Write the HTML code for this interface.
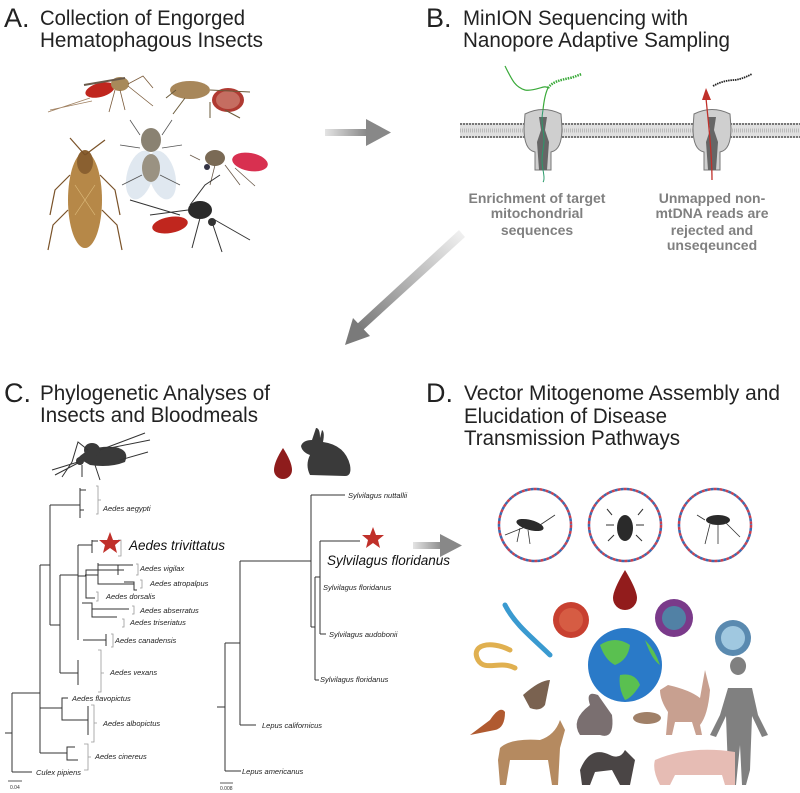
<!DOCTYPE html>
<html><head><meta charset="utf-8"><style>
html,body{margin:0;padding:0;background:#fff;}
svg{display:block;}
.t{font-family:"Liberation Sans",sans-serif;font-size:21px;fill:#222;}
.L{font-family:"Liberation Sans",sans-serif;font-size:27px;fill:#222;}
.b{font-family:"Liberation Sans",sans-serif;font-size:14px;font-weight:bold;fill:#808080;}
.i{font-family:"Liberation Sans",sans-serif;font-size:7.5px;font-style:italic;fill:#222;}
.I{font-family:"Liberation Sans",sans-serif;font-size:13.5px;font-style:italic;fill:#111;}
.s{font-family:"Liberation Sans",sans-serif;font-size:5px;fill:#333;}
.tr{stroke:#333;stroke-width:1;fill:none;}
.br{stroke:#999;stroke-width:0.8;fill:none;}
</style></head><body>
<svg width="800" height="793" viewBox="0 0 800 793" xmlns="http://www.w3.org/2000/svg">
<defs>
<linearGradient id="g1" x1="0" y1="0" x2="1" y2="0"><stop offset="0" stop-color="#e4e4e4"/><stop offset="1" stop-color="#888"/></linearGradient>
<linearGradient id="g2" x1="1" y1="0" x2="0" y2="1"><stop offset="0" stop-color="#f4f4f4"/><stop offset="1" stop-color="#777"/></linearGradient>
</defs>
<text class="L" x="4" y="27">A.</text>
<text class="t" x="40" y="25" textLength="205" lengthAdjust="spacingAndGlyphs">Collection of Engorged</text>
<text class="t" x="40" y="47" textLength="223" lengthAdjust="spacingAndGlyphs">Hematophagous Insects</text>
<text class="L" x="426" y="27">B.</text>
<text class="t" x="463" y="25" textLength="225" lengthAdjust="spacingAndGlyphs">MinION Sequencing with</text>
<text class="t" x="463" y="47" textLength="267" lengthAdjust="spacingAndGlyphs">Nanopore Adaptive Sampling</text>
<text class="L" x="4" y="402">C.</text>
<text class="t" x="40" y="400" textLength="230" lengthAdjust="spacingAndGlyphs">Phylogenetic Analyses of</text>
<text class="t" x="40" y="422" textLength="218" lengthAdjust="spacingAndGlyphs">Insects and Bloodmeals</text>
<text class="L" x="426" y="402">D.</text>
<text class="t" x="464" y="400" textLength="316" lengthAdjust="spacingAndGlyphs">Vector Mitogenome Assembly and</text>
<text class="t" x="464" y="423" textLength="203" lengthAdjust="spacingAndGlyphs">Elucidation of Disease</text>
<text class="t" x="464" y="445" textLength="216" lengthAdjust="spacingAndGlyphs">Transmission Pathways</text>

<rect x="325" y="129" width="42" height="7" fill="url(#g1)"/>
<polygon points="366,119 391,132.5 366,146" fill="#888"/>
<polygon points="459,230 465,237 362,331 356,325" fill="url(#g2)"/>
<polygon points="345,345 353,318 370,336" fill="#7a7a7a"/>
<rect x="413" y="542" width="30" height="7" fill="url(#g1)"/>
<polygon points="440,534 462,545.5 440,557" fill="#888"/>

<g>
<path d="M48,112 L90,98 M50,110 L92,101" stroke="#a08060" stroke-width="0.8"/>
<ellipse cx="100" cy="90" rx="15" ry="7" fill="#c0261e" transform="rotate(-15 100 90)"/>
<ellipse cx="120" cy="84" rx="9" ry="7" fill="#a88a5a"/>
<path d="M115,90 l-6,22 M120,90 l5,20 M128,86 l25,20 M128,84 l15,-8 l10,12" stroke="#7a5a3a" stroke-width="0.8" fill="none"/>
<path d="M84,85 L125,78" stroke="#6a5a4a" stroke-width="2"/>
<ellipse cx="190" cy="90" rx="20" ry="9" fill="#a8875a"/>
<ellipse cx="228" cy="100" rx="16" ry="12" fill="#b03a32"/>
<ellipse cx="228" cy="100" rx="12" ry="9" fill="#d9a090" opacity="0.5"/>
<path d="M176,90 l-10,8 M185,98 l-12,16 M210,102 l0,16 M225,110 l15,8 M210,90 L250,92" stroke="#6a5a3a" stroke-width="1" fill="none"/>
<ellipse cx="85" cy="200" rx="17" ry="48" fill="#b68848"/>
<ellipse cx="85" cy="162" rx="8" ry="12" fill="#8a6030"/>
<path d="M85,155 L70,138 M85,155 L105,140 M70,175 l-15,15 l-5,25 M100,175 l15,15 l5,25 M68,210 l-15,15 l-5,25 M102,210 l15,15 l5,25" stroke="#7a5228" stroke-width="1.2" fill="none"/>
<path d="M75,185 L95,215 M95,185 L75,215" stroke="#e0c080" stroke-width="0.6"/>
<ellipse cx="140" cy="175" rx="13" ry="25" fill="#d8e2ec" opacity="0.8" transform="rotate(15 140 175)"/>
<ellipse cx="162" cy="175" rx="13" ry="25" fill="#d8e2ec" opacity="0.8" transform="rotate(-15 162 175)"/>
<ellipse cx="151" cy="140" rx="10" ry="12" fill="#8a8272"/>
<ellipse cx="151" cy="168" rx="9" ry="14" fill="#9a9282"/>
<path d="M140,135 l-10,-15 M162,135 l10,-15 M140,148 l-20,-3 M162,148 l20,-3 M142,175 l-20,10 M160,175 l20,10" stroke="#555" stroke-width="0.8"/>
<ellipse cx="250" cy="162" rx="18" ry="9" fill="#d83050" transform="rotate(10 250 162)"/>
<ellipse cx="215" cy="158" rx="10" ry="8" fill="#7a6a55"/>
<circle cx="207" cy="167" r="3" fill="#334"/>
<path d="M215,165 l-5,20 M225,165 l15,20 M235,168 l20,18 M200,160 l-10,-5" stroke="#6a5a4a" stroke-width="0.8"/>
<ellipse cx="170" cy="225" rx="18" ry="8" fill="#c0261e" transform="rotate(-10 170 225)"/>
<ellipse cx="200" cy="210" rx="12" ry="9" fill="#2a2a2a"/>
<circle cx="212" cy="222" r="4" fill="#333"/>
<path d="M130,200 L180,215 M190,205 L205,185 L220,175 M200,218 l-8,30 M212,222 l10,30 M215,220 L250,240 M188,210 L150,215" stroke="#333" stroke-width="1" fill="none"/>
</g>

<rect x="460" y="123" width="340" height="15" fill="#e0e0e0"/>
<line x1="460" y1="124" x2="800" y2="124" stroke="#777" stroke-width="2" stroke-dasharray="2,1"/>
<line x1="460" y1="137" x2="800" y2="137" stroke="#777" stroke-width="2" stroke-dasharray="2,1"/>
<line x1="460" y1="130.5" x2="800" y2="130.5" stroke="#bbb" stroke-width="4" stroke-dasharray="1,1"/>
<g id="pore">
<path d="M525,114 Q543,105 561,114 L562,128 Q562,150 551,152 L551,170 L535,170 L535,152 Q524,150 524,128 Z" fill="#cfcfcf" stroke="#777" stroke-width="1"/>
<path d="M539,117 L547,117 L545,130 L549,142 L547,170 L539,170 L537,142 L541,130 Z" fill="#666"/>
</g>
<use href="#pore" x="169"/>
<path d="M543,110 q-2,10 0,20 q2,10 0,20 q-2,10 0,20 q2,10 0,12" stroke="#2a9a6a" stroke-width="1" fill="none"/>
<path d="M543,110 C544,100 546,92 548,88 C545,84 535,92 525,90 C515,87 512,80 505,66" stroke="#3aaa3a" stroke-width="1.2" fill="none"/>
<path d="M548,88 C552,82 560,80 570,78 C575,77 578,75 582,74" stroke="#3aaa3a" stroke-width="2.5" stroke-dasharray="1.5,1" fill="none"/>
<path d="M712,180 C712,150 708,120 706,98" stroke="#c0302a" stroke-width="1.3" fill="none"/>
<polygon points="702,100 706,88 711,100" fill="#c0302a"/>
<path d="M713,86 C720,82 728,80 735,80 C742,79 748,76 752,74" stroke="#222" stroke-width="1.8" stroke-dasharray="1.5,0.8" fill="none"/>
<text class="b" x="537" y="203" text-anchor="middle">Enrichment of target</text>
<text class="b" x="537" y="218" text-anchor="middle">mitochondrial</text>
<text class="b" x="537" y="235" text-anchor="middle">sequences</text>
<text class="b" x="712" y="203" text-anchor="middle">Unmapped non-</text>
<text class="b" x="712" y="218" text-anchor="middle">mtDNA reads are</text>
<text class="b" x="712" y="235" text-anchor="middle">rejected and</text>
<text class="b" x="712" y="250" text-anchor="middle">unseqeunced</text>

<path d="M78,458 Q90,445 115,447 Q130,450 125,462 Q110,468 90,465 Z" fill="#3a3a3a"/>
<ellipse cx="92" cy="450" rx="8" ry="7" fill="#3a3a3a"/>
<circle cx="80" cy="461" r="4" fill="#3a3a3a"/>
<path d="M78,462 L52,470 M78,463 L55,475 M82,465 l0,12 M88,450 l-10,-8 l-6,20 l-10,15 M95,465 l5,15 M100,450 L145,433 M110,448 L150,440 M120,460 L148,452" stroke="#333" stroke-width="1" fill="none"/>
<path d="M283,448 Q292,462 292,470 A9,9 0 0 1 274,470 Q274,462 283,448 Z" fill="#8e1c1c"/>
<path d="M310,475 Q305,465 310,455 Q302,452 301,446 Q303,440 312,440 L316,428 Q320,428 320,438 L322,430 Q325,432 323,442 Q345,445 350,465 Q352,476 345,476 Z" fill="#3a3a3a"/>

<g class="tr">
<path d="M5,733 H12 M12,693 V772 M12,772 H32 M12,693 H40 M40,565 V708 M40,753 V708"/>
<path d="M40,708 H62 V698 H68 M62,708 V720 H88"/>
<path d="M40,753 H67 V747 H75 M67,753 V760 H78"/>
<path d="M40,565 H50 M50,505 V625 M50,505 H80 M80,488 V518 M80,490 H86 M80,510 H84"/>
<path d="M50,625 H60 M60,575 V673 M60,673 H78 M78,660 V685"/>
<path d="M60,575 H78 M78,545 V640 M78,545 H92 M92,540 V553 M92,541 H98"/>
<path d="M78,576 H86 V570 H118 M86,576 V598 H95 M98,563 V575 M98,570 H124 M98,565 H133 M118,565 V575 M124,582 H134 V590 H137"/>
<path d="M82,603 H92 V617 H117 M92,609 H129"/>
<path d="M83,640 H106 M106,634 V646 M78,560 V640"/>
<path d="M85,575 H98 V584 H134"/>
<path d="M88,720 V706 M88,735 V706"/>
</g>
<g class="br">
<path d="M96,486 H98 V514 H96 M98,500 H101"/>
<path d="M118,540 H121 V556 H118"/>
<path d="M136,564 H138 V575 H136"/>
<path d="M140,580 H142 V588 H140"/>
<path d="M96,592 H98 V601 H96"/>
<path d="M132,606 H134 V614 H132"/>
<path d="M122,619 H124 V627 H122"/>
<path d="M111,634 H113 V647 H111"/>
<path d="M98,650 H101 V692 H98 M101,673 H104"/>
<path d="M91,705 H94 V742 H91 M94,723 H97"/>
<path d="M84,744 H88 V770 H84 M88,757 H91"/>
</g>
<polygon points="110,532 113,540 121,540 115,545 117,553 110,548 103,553 105,545 99,540 107,540" fill="#c0302a"/>
<text class="i" x="103" y="511">Aedes aegypti</text>
<text class="I" x="129" y="550">Aedes trivittatus</text>
<text class="i" x="140" y="571">Aedes vigilax</text>
<text class="i" x="150" y="586">Aedes atropalpus</text>
<text class="i" x="106" y="599">Aedes dorsalis</text>
<text class="i" x="140" y="613">Aedes abserratus</text>
<text class="i" x="130" y="625">Aedes triseriatus</text>
<text class="i" x="115" y="643">Aedes canadensis</text>
<text class="i" x="110" y="675">Aedes vexans</text>
<text class="i" x="72" y="701">Aedes flavopictus</text>
<text class="i" x="103" y="726">Aedes albopictus</text>
<text class="i" x="95" y="759">Aedes cinereus</text>
<text class="i" x="36" y="775">Culex pipiens</text>
<path d="M8,781 H22" stroke="#333" stroke-width="0.8"/>
<text class="s" x="10" y="789">0.04</text>

<g class="tr">
<path d="M217,707 H225 M225,643 V771 M225,771 H241 M225,643 H240 M240,561 V725 M240,725 H256"/>
<path d="M240,561 H311 M311,495 V627 M311,495 H345 M311,627 H315 M315,577 V680 M315,680 H319 M315,577 H320 M320,541 V634 M320,541 H360 M320,634 H326"/>
</g>
<path d="M220,783 H233" stroke="#333" stroke-width="0.8"/>
<polygon points="373,527 376,535 384,535 378,540 380,548 373,543 366,548 368,540 362,535 370,535" fill="#c0302a"/>
<text class="i" x="348" y="498">Sylvilagus nuttallii</text>
<text class="I" x="327" y="565">Sylvilagus floridanus</text>
<text class="i" x="323" y="590">Sylvilagus floridanus</text>
<text class="i" x="329" y="637">Sylvilagus audobonii</text>
<text class="i" x="320" y="682">Sylvilagus floridanus</text>
<text class="i" x="262" y="728">Lepus californicus</text>
<text class="i" x="242" y="774">Lepus americanus</text>
<text class="s" x="220" y="790">0.008</text>

<g fill="none" stroke-width="2.5">
<circle cx="535" cy="525" r="36" stroke="#c84050" stroke-dasharray="3,3"/>
<circle cx="535" cy="525" r="36" stroke="#3a6ab0" stroke-dasharray="3,3" stroke-dashoffset="3"/>
<circle cx="625" cy="525" r="36" stroke="#c84050" stroke-dasharray="3,3"/>
<circle cx="625" cy="525" r="36" stroke="#3a6ab0" stroke-dasharray="3,3" stroke-dashoffset="3"/>
<circle cx="715" cy="525" r="36" stroke="#c84050" stroke-dasharray="3,3"/>
<circle cx="715" cy="525" r="36" stroke="#3a6ab0" stroke-dasharray="3,3" stroke-dashoffset="3"/>
</g>
<ellipse cx="530" cy="525" rx="14" ry="5" fill="#2a2a2a" transform="rotate(15 530 525)"/>
<path d="M505,535 l20,-8 M520,528 l-3,14 M528,530 l2,14 M540,525 l15,-10" stroke="#333" stroke-width="0.8"/>
<ellipse cx="625" cy="528" rx="8" ry="13" fill="#2a2a2a"/>
<path d="M612,515 l-5,-6 M638,515 l5,-6 M614,525 l-8,0 M636,525 l8,0 M614,535 l-6,6 M636,535 l6,6" stroke="#333" stroke-width="1"/>
<ellipse cx="718" cy="520" rx="12" ry="5" fill="#2a2a2a"/>
<path d="M705,520 l-8,-5 M710,524 l-5,20 M718,524 l0,20 M725,522 l15,15" stroke="#333" stroke-width="0.8"/>
<path d="M625,570 Q637,590 637,598 A12,12 0 0 1 613,598 Q613,590 625,570 Z" fill="#921c1c"/>
<circle cx="571" cy="620" r="18" fill="#c84030"/><circle cx="571" cy="620" r="12" fill="#e07050" opacity="0.6"/>
<circle cx="674" cy="618" r="19" fill="#7a3a8a"/><circle cx="674" cy="618" r="12" fill="#40a0b0" opacity="0.7"/>
<circle cx="733" cy="638" r="18" fill="#5a8ab0"/><circle cx="733" cy="638" r="12" fill="#a0c8e0"/>
<path d="M505,605 C515,625 535,640 550,655" stroke="#3a9ad0" stroke-width="5" fill="none" stroke-linecap="round"/>
<path d="M510,650 C490,640 470,645 478,660 C485,672 500,660 515,668" stroke="#e0b050" stroke-width="5" fill="none" stroke-linecap="round"/>
<circle cx="625" cy="665" r="37" fill="#2a7ac8"/>
<path d="M600,645 Q615,635 630,645 Q628,660 615,665 Q605,660 600,645 Z M620,675 Q635,672 640,685 Q632,698 625,700 Q618,688 620,675 Z M645,640 Q655,650 660,665 Q652,660 645,640 Z" fill="#5ac050"/>
<path d="M738,675 a8,9 0 1 1 0.1,0 Z" fill="#808080"/>
<path d="M728,688 H752 L758,715 L768,735 L762,737 L752,716 L750,770 L746,785 H742 L740,745 L736,785 H732 L728,770 L726,716 L716,737 L710,735 L720,715 Z" fill="#808080"/>
<path d="M668,685 Q690,690 700,698 L705,670 L710,690 Q708,715 700,725 L702,735 H696 L692,722 L675,722 L672,735 H666 L668,712 Q660,700 660,690 Z" fill="#c8a090"/>
<path d="M590,705 Q585,690 598,695 Q605,705 612,715 Q615,740 600,735 H580 Q570,720 590,705 Z" fill="#7a6f70"/>
<ellipse cx="647" cy="718" rx="14" ry="6" fill="#a08068"/>
<path d="M523,695 Q540,680 550,680 L545,705 Q540,712 530,708 Z" fill="#7a6250"/>
<path d="M490,720 Q500,705 505,712 Q505,728 495,730 L470,735 Z" fill="#b05a30"/>
<path d="M500,748 Q510,738 540,740 Q555,735 560,720 L565,730 L560,748 L558,785 H552 L548,760 L510,760 L506,785 H500 L498,760 Z" fill="#b58a60"/>
<path d="M580,770 Q590,745 610,755 Q620,760 625,750 L635,760 L630,785 H620 L612,770 L595,772 L590,785 H582 Z" fill="#4a4545"/>
<path d="M655,760 Q690,745 735,752 L735,785 H725 L722,775 L675,775 L670,785 H660 Q652,770 655,760 Z" fill="#e6bcb4"/>
</svg>
</body></html>
